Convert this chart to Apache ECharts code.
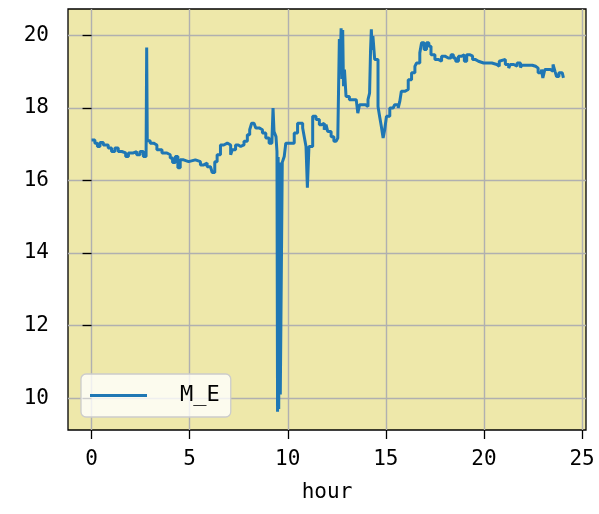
<!DOCTYPE html>
<html>
<head>
<meta charset="utf-8">
<script src="https://cdn.jsdelivr.net/npm/echarts@6/dist/echarts.min.js"></script>
<style>
  html, body { margin: 0; padding: 0; background: #ffffff; }
  #main { width: 599px; height: 514px; }
</style>
</head>
<body>
<div id="main"></div>
<script>
// hour of day
const hours = [
  0.00, 0.17, 0.30, 0.43, 0.60, 0.85, 1.02, 1.19, 1.36, 1.54, 1.74, 1.88, 2.13, 2.30, 2.47, 2.64, 2.78,
  2.81, 2.84, 2.99, 3.16, 3.33, 3.59, 3.84, 4.01, 4.13, 4.27, 4.40, 4.52, 4.69, 4.95, 5.29, 5.55, 5.72,
  5.89, 6.06, 6.15, 6.28, 6.40, 6.57, 6.74, 6.92, 7.09, 7.17, 7.34, 7.48, 7.60, 7.77, 7.94, 8.06, 8.16,
  8.28, 8.37, 8.54, 8.71, 8.88, 9.05, 9.19, 9.25, 9.30, 9.40, 9.45, 9.48, 9.51, 9.54, 9.58, 9.62, 9.68,
  9.72, 9.82, 9.90, 10.16, 10.33, 10.50, 10.64, 10.76, 10.84, 10.93, 11.00, 11.08, 11.18, 11.27, 11.44,
  11.61, 11.73, 11.86, 11.95, 12.04, 12.21, 12.35, 12.46, 12.55, 12.60, 12.63, 12.68, 12.72, 12.76, 12.80,
  12.84, 12.89, 12.97, 13.14, 13.49, 13.57, 13.66, 13.83, 13.97, 14.09, 14.17, 14.22, 14.26, 14.30, 14.34,
  14.43, 14.51, 14.60, 14.68, 14.77, 14.86, 14.94, 15.03, 15.20, 15.37, 15.45, 15.63, 15.71, 15.79, 15.96,
  16.14, 16.31, 16.48, 16.56, 16.73, 16.82, 16.95, 17.07, 17.19, 17.30, 17.50, 17.67, 17.84, 18.01, 18.18,
  18.32, 18.44, 18.56, 18.70, 18.87, 19.00, 19.12, 19.29, 19.42, 19.55, 19.72, 19.98, 20.24, 20.40, 20.66,
  20.78, 20.88, 21.09, 21.26, 21.34, 21.52, 21.69, 21.86, 21.94, 22.29, 22.46, 22.63, 22.76, 22.93, 23.00,
  23.10, 23.27, 23.39, 23.52, 23.62, 23.70, 23.82, 23.99, 24.05
]
// M_E values
const meValues = [
  17.12, 17.03, 16.94, 17.05, 16.98, 16.90, 16.80, 16.90, 16.80, 16.76, 16.66, 16.76, 16.80, 16.71, 16.80, 16.66, 16.76,
  19.67, 17.10, 17.03, 16.98, 16.85, 16.76, 16.71, 16.62, 16.50, 16.66, 16.35, 16.57, 16.52, 16.57, 16.52, 16.43, 16.48,
  16.38, 16.34, 16.22, 16.52, 16.71, 16.98, 17.03, 16.98, 16.71, 16.85, 16.98, 16.94, 16.98, 17.08, 17.26, 17.40, 17.58,
  17.63, 17.45, 17.40, 17.31, 17.17, 17.03, 17.08, 18.00, 17.35, 17.21, 16.80, 9.62, 16.65, 9.70, 16.50, 10.10, 10.10,
  16.50, 16.66, 17.03, 17.03, 17.31, 17.58, 17.58, 17.45, 17.21, 16.94, 15.80, 16.94, 16.94, 17.77, 17.68,
  17.54, 17.58, 17.40, 17.54, 17.35, 17.21, 17.08, 17.10, 17.17, 17.15, 19.90, 19.40, 20.20, 18.80, 20.15,
  18.60, 19.06, 18.32, 18.23, 18.23, 17.86, 18.09, 18.09, 18.04, 18.23, 18.41, 19.60, 20.17, 19.60, 19.98,
  19.34, 19.34, 18.04, 17.77, 17.49, 17.17, 17.40, 17.77, 18.00, 17.95, 18.09, 18.00, 18.18, 18.46, 18.51,
  18.78, 18.97, 19.15, 19.24, 19.52, 19.80, 19.61, 19.80, 19.70, 19.47, 19.34, 19.29, 19.43, 19.38, 19.38,
  19.47, 19.38, 19.29, 19.43, 19.47, 19.29, 19.47, 19.43, 19.34, 19.29, 19.24, 19.24, 19.24, 19.20, 19.15,
  19.29, 19.34, 19.20, 19.10, 19.20, 19.15, 19.24, 19.12, 19.18, 19.18, 19.15, 19.10, 18.97, 19.06, 18.83,
  19.06, 19.06, 19.01, 19.20, 19.01, 18.87, 18.97, 18.97, 18.83
]
const xTicks = [0, 5, 10, 15, 20, 25]
const yTicks = [10, 12, 14, 16, 18, 20]

const chart = echarts.init(document.getElementById('main'))
const font = 'DejaVu Sans Mono'

chart.setOption({
  animation: false,
  grid: {
    left: 68,
    right: 13,
    top: 9,
    bottom: 84,
    show: true,
    backgroundColor: '#eee8aa',
    borderColor: '#000000',
    borderWidth: 1.3
  },
  legend: {
    left: 81,
    top: 374,
    data: ['M_E'],
    icon: 'rect',
    itemWidth: 57,
    itemHeight: 3,
    padding: [9, 11, 9, 9],
    backgroundColor: 'rgba(255,255,255,0.8)',
    borderColor: '#cccccc',
    borderWidth: 1.3,
    borderRadius: 5,
    textStyle: {
      fontFamily: font,
      fontSize: 22,
      color: '#000000',
      lineHeight: 25,
      padding: [0, 0, 0, 28]
    }
  },
  xAxis: {
    type: 'value',
    min: -1.2,
    max: 25.2,
    name: 'hour',
    nameLocation: 'middle',
    nameGap: 52,
    nameTextStyle: { fontFamily: font, fontSize: 21, color: '#000000' },
    axisLine: { show: false },
    axisTick: { show: true, length: 9, customValues: xTicks, lineStyle: { color: '#000000', width: 1.3 } },
    axisLabel: { customValues: xTicks, margin: 19, fontFamily: font, fontSize: 21, color: '#000000' },
    splitLine: { show: true, customValues: xTicks, lineStyle: { color: '#b0b0b0', width: 1.4 } }
  },
  yAxis: {
    type: 'value',
    min: 9.12,
    max: 20.73,
    axisLine: { show: false },
    axisTick: { show: true, length: 9, customValues: yTicks, lineStyle: { color: '#000000', width: 1.3 } },
    axisLabel: { customValues: yTicks, margin: 19, fontFamily: font, fontSize: 21, color: '#000000' },
    splitLine: { show: true, customValues: yTicks, lineStyle: { color: '#b0b0b0', width: 1.4 } }
  },
  series: [
    {
      name: 'M_E',
      type: 'line',
      step: 'end',
      data: hours.map((h, i) => [h, meValues[i]]),
      showSymbol: false,
      lineStyle: { color: '#1f77b4', width: 3 },
      itemStyle: { color: '#1f77b4' }
    }
  ]
})
</script>
</body>
</html>
